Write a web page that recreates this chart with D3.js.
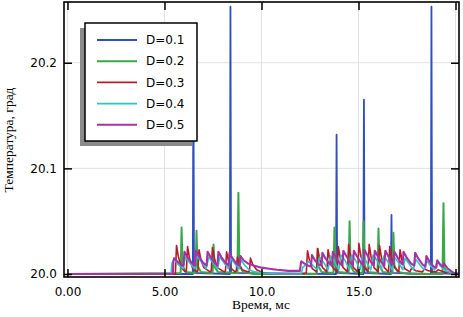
<!DOCTYPE html>
<html>
<head>
<meta charset="utf-8">
<script src="https://cdn.jsdelivr.net/npm/d3@7"></script>
<style>
  body { margin: 0; background: #fff; }
  svg { display: block; }
  .tick text { font-family: "DejaVu Sans", sans-serif; font-size: 12px; fill: #000; }
</style>
</head>
<body>
<div id="chart"></div>
<script>

// data: time (ms), temperature (grad)
const seriesNames = ["D=0.1", "D=0.2", "D=0.3", "D=0.4", "D=0.5"]
const seriesColors = ["#2f4fbf", "#3aa84a", "#b81c2a", "#2cc4c4", "#a632a6"]
const seriesWidths = [1.8, 2, 1.6, 1.6, 2.1]

const xTicks = [0, 5, 10, 15, 20]
const xTickLabels = ["0.00", "5.00", "10.0", "15.0", ""]
const yTicks = [20.0, 20.1, 20.2]
const yTickLabels = ["20.0", "20.1", "20.2"]

const d01 = [[0,20.000],[6.46,20.000],[6.49,20.200],[6.52,20.001],[8.37,20.000],[8.40,20.253],[8.43,20.001],
  [13.84,20.000],[13.87,20.132],[13.90,20.001],[15.25,20.000],[15.28,20.165],[15.31,20.001],
  [16.67,20.000],[16.70,20.056],[16.73,20.001],[18.73,20.000],[18.76,20.253],[18.79,20.001],[20.2,20.000]]

const d02 = [[0,20.000],[5.83,20.001],[5.88,20.044],[5.93,20.008],[6.10,20.002],
  [6.60,20.001],[6.65,20.041],[6.70,20.008],[6.87,20.002],
  [7.48,20.001],[7.53,20.028],[7.58,20.007],[7.75,20.002],
  [8.76,20.001],[8.81,20.077],[8.86,20.008],[9.05,20.002],
  [9.6,20.000],[12.84,20.000],[12.89,20.024],[12.94,20.007],[13.10,20.002],
  [13.71,20.001],[13.76,20.044],[13.81,20.008],[13.98,20.002],
  [14.49,20.001],[14.54,20.050],[14.59,20.008],[14.76,20.002],
  [15.21,20.001],[15.26,20.050],[15.31,20.008],[15.48,20.002],
  [15.98,20.001],[16.03,20.043],[16.08,20.008],[16.25,20.002],
  [16.75,20.001],[16.80,20.039],[16.85,20.008],[17.02,20.002],
  [17.6,20.000],[19.33,20.000],[19.38,20.067],[19.43,20.006],[19.60,20.001],[20.2,20.000]]

const d03 = [[0,20.000],[5.56,20.000],[5.62,20.027],[5.72,20.016],[5.87,20.006],[6.07,20.002],
  [6.13,20.003],[6.19,20.026],[6.29,20.015],[6.44,20.006],[6.66,20.002],
  [6.72,20.003],[6.78,20.023],[6.88,20.013],[7.03,20.006],[7.35,20.002],
  [7.41,20.003],[7.47,20.025],[7.57,20.015],[7.72,20.006],[8.08,20.002],
  [8.14,20.003],[8.20,20.021],[8.30,20.012],[8.45,20.005],[8.64,20.002],
  [8.70,20.003],[8.76,20.016],[8.86,20.009],[9.01,20.004],[9.32,20.002],
  [9.38,20.003],[9.43,20.015],[9.55,20.009],[9.75,20.004],[10.1,20.001],[10.6,20.000],
  [12.0,20.000],[12.31,20.001],[12.37,20.022],[12.47,20.013],[12.62,20.005],[12.84,20.002],
  [12.90,20.024],[13.00,20.014],[13.15,20.006],[13.37,20.002],
  [13.43,20.023],[13.53,20.013],[13.68,20.006],[13.90,20.002],
  [13.96,20.026],[14.06,20.015],[14.21,20.006],[14.43,20.002],
  [14.49,20.028],[14.59,20.016],[14.74,20.006],[14.96,20.002],
  [15.02,20.029],[15.12,20.017],[15.27,20.007],[15.49,20.002],
  [15.55,20.028],[15.65,20.016],[15.80,20.006],[16.02,20.002],
  [16.08,20.027],[16.18,20.016],[16.33,20.006],[16.55,20.002],
  [16.61,20.026],[16.71,20.015],[16.86,20.006],[17.08,20.002],
  [17.14,20.023],[17.24,20.013],[17.39,20.005],[17.65,20.002],
  [17.75,20.006],[17.95,20.003],[18.3,20.002],[18.4,20.005],[18.6,20.003],[19.0,20.002],
  [19.1,20.004],[19.4,20.002],[20.2,20.000]]

const d04 = [[0,20.000],[5.34,20.000],[5.38,20.010],[5.50,20.014],[5.70,20.009],[5.95,20.005],
  [6.08,20.016],[6.28,20.011],[6.55,20.005],
  [6.68,20.017],[6.88,20.012],[7.15,20.005],
  [7.28,20.016],[7.48,20.011],[7.73,20.005],
  [7.85,20.016],[8.05,20.011],[8.30,20.005],
  [8.42,20.015],[8.62,20.010],[8.85,20.005],
  [8.95,20.013],[9.15,20.008],[9.35,20.004],[9.65,20.002],[10.1,20.001],[10.8,20.000],
  [12.05,20.000],[12.12,20.006],[12.45,20.012],[12.65,20.008],[12.88,20.004],
  [13.00,20.016],[13.20,20.011],[13.43,20.004],
  [13.55,20.017],[13.75,20.012],[13.98,20.004],
  [14.10,20.018],[14.30,20.013],[14.53,20.004],
  [14.65,20.018],[14.85,20.013],[15.08,20.004],
  [15.20,20.017],[15.40,20.012],[15.63,20.004],
  [15.75,20.018],[15.95,20.013],[16.18,20.004],
  [16.30,20.017],[16.50,20.012],[16.73,20.004],
  [16.85,20.016],[17.05,20.011],[17.28,20.004],
  [17.40,20.015],[17.60,20.010],[17.83,20.004],
  [17.95,20.014],[18.15,20.009],[18.38,20.004],
  [18.50,20.013],[18.70,20.008],[18.93,20.004],
  [19.05,20.012],[19.25,20.007],[19.50,20.003],[19.80,20.001],[20.2,20.000]]

const d05 = [[0,20.000],[5.43,20.000],[5.46,20.012],[5.50,20.015],[5.65,20.012],[5.85,20.009],[5.98,20.008],
  [6.03,20.021],[6.18,20.016],[6.38,20.011],[6.57,20.008],
  [6.62,20.022],[6.77,20.017],[6.97,20.011],[7.17,20.008],
  [7.22,20.021],[7.37,20.016],[7.57,20.011],[7.73,20.008],
  [7.78,20.021],[7.93,20.016],[8.13,20.011],[8.30,20.008],
  [8.35,20.020],[8.50,20.015],[8.70,20.010],[8.87,20.008],
  [8.92,20.017],[9.07,20.013],[9.30,20.010],[9.60,20.008],[10.0,20.006],[10.4,20.005],
  [10.8,20.004],[11.4,20.003],[11.98,20.003],
  [12.03,20.010],[12.05,20.012],[12.20,20.010],[12.40,20.008],[12.55,20.007],
  [12.60,20.018],[12.75,20.013],[12.95,20.009],[13.09,20.008],
  [13.14,20.020],[13.29,20.015],[13.49,20.010],[13.63,20.008],
  [13.68,20.021],[13.83,20.016],[14.03,20.010],[14.17,20.008],
  [14.22,20.022],[14.37,20.017],[14.57,20.011],[14.71,20.008],
  [14.76,20.022],[14.91,20.017],[15.11,20.011],[15.25,20.008],
  [15.30,20.023],[15.45,20.018],[15.65,20.011],[15.79,20.008],
  [15.84,20.022],[15.99,20.017],[16.19,20.011],[16.33,20.008],
  [16.38,20.022],[16.53,20.017],[16.70,20.011],[16.80,20.009],
  [16.85,20.021],[17.00,20.016],[17.17,20.011],[17.27,20.009],
  [17.32,20.021],[17.47,20.016],[17.70,20.010],[17.87,20.008],
  [17.92,20.020],[18.07,20.015],[18.30,20.009],[18.45,20.007],
  [18.50,20.017],[18.65,20.012],[18.88,20.007],[19.01,20.006],
  [19.06,20.013],[19.21,20.009],[19.35,20.007],
  [19.40,20.010],[19.60,20.005],[19.90,20.001],[20.20,20.000]]

const allSeries = [d01, d02, d03, d04, d05]

// layout
const W = 463, H = 317
const plot = {left: 64, top: 2, right: 459, bottom: 277}

const svg = d3.select("#chart").append("svg")
    .attr("width", W)
    .attr("height", H)

// x: 0 -> 67.5px, 20 -> 455.5px ; y: 20.0 -> 274px, 20.2 -> 62.7px
const xScale = d3.scaleLinear()
    .domain([-0.18, 20.18])
    .range([plot.left, plot.right])
const yScale = d3.scaleLinear()
    .domain([19.99716, 20.2575])
    .range([plot.bottom, plot.top])

// grid
svg.append("g")
    .selectAll("line.vgrid")
    .data(xTicks)
    .enter().append("line")
    .attr("x1", d => xScale(d)).attr("x2", d => xScale(d))
    .attr("y1", plot.top).attr("y2", plot.bottom)
    .attr("stroke", "#e2e2e2").attr("stroke-width", 1)
svg.append("g")
    .selectAll("line.hgrid")
    .data(yTicks)
    .enter().append("line")
    .attr("x1", plot.left).attr("x2", plot.right)
    .attr("y1", d => yScale(d)).attr("y2", d => yScale(d))
    .attr("stroke", "#e2e2e2").attr("stroke-width", 1)

// lines
svg.append("clipPath").attr("id", "clip")
    .append("rect")
    .attr("x", plot.left).attr("y", plot.top)
    .attr("width", plot.right - plot.left).attr("height", plot.bottom - plot.top)

const line = d3.line()
    .x(d => xScale(d[0]))
    .y(d => yScale(d[1]))

svg.append("g")
    .attr("clip-path", "url(#clip)")
    .selectAll("path")
    .data(allSeries)
    .enter().append("path")
    .attr("d", d => line(d))
    .attr("fill", "none")
    .attr("stroke", (d, i) => seriesColors[i])
    .attr("stroke-width", (d, i) => seriesWidths[i])
    .attr("stroke-linejoin", "round")

// axes, ticks point inward on all four sides
const tickLen = 8
svg.append("g")
    .attr("transform", `translate(0,${plot.bottom})`)
    .call(d3.axisBottom(xScale).tickValues(xTicks)
        .tickFormat((d, i) => xTickLabels[i]).tickSize(-tickLen).tickPadding(10))
svg.append("g")
    .attr("transform", `translate(0,${plot.top})`)
    .call(d3.axisTop(xScale).tickValues(xTicks).tickFormat("").tickSize(-tickLen))
svg.append("g")
    .attr("transform", `translate(${plot.left},0)`)
    .call(d3.axisLeft(yScale).tickValues(yTicks)
        .tickFormat((d, i) => yTickLabels[i]).tickSize(-tickLen).tickPadding(7))
svg.append("g")
    .attr("transform", `translate(${plot.right},0)`)
    .call(d3.axisRight(yScale).tickValues(yTicks).tickFormat("").tickSize(-tickLen))

svg.selectAll(".domain").remove()
svg.selectAll(".tick line").attr("stroke", "#000").attr("stroke-width", 1.5)

svg.append("rect")
    .attr("x", plot.left).attr("y", plot.top)
    .attr("width", plot.right - plot.left).attr("height", plot.bottom - plot.top)
    .attr("fill", "none").attr("stroke", "#000").attr("stroke-width", 1.6)

// axis titles
svg.append("text")
    .attr("x", 261).attr("y", 309)
    .attr("text-anchor", "middle")
    .style("font-family", "'Liberation Serif', serif")
    .style("font-size", "13.5px")
    .text("Время, мс")
svg.append("text")
    .attr("transform", "translate(13,140) rotate(-90)")
    .attr("text-anchor", "middle")
    .style("font-family", "'Liberation Serif', serif")
    .style("font-size", "13.5px")
    .text("Температура, град")

// legend with shadow
const legend = svg.append("g")
legend.append("rect")
    .attr("x", 80).attr("y", 28).attr("width", 112).attr("height", 118)
    .attr("fill", "#8a8a8a")
legend.append("rect")
    .attr("x", 85).attr("y", 23).attr("width", 112).attr("height", 118)
    .attr("fill", "#fff").attr("stroke", "#000").attr("stroke-width", 1.5)

const rows = legend.selectAll("g.row")
    .data(seriesNames)
    .enter().append("g")
    .attr("transform", (d, i) => `translate(0,${40 + i * 21.2})`)
rows.append("line")
    .attr("x1", 97).attr("x2", 137)
    .attr("stroke", (d, i) => seriesColors[i])
    .attr("stroke-width", (d, i) => seriesWidths[i])
rows.append("text")
    .attr("x", 146).attr("dy", "0.35em")
    .style("font-family", "'DejaVu Sans', sans-serif")
    .style("font-size", "12px")
    .text(d => d)

</script>
</body>
</html>
